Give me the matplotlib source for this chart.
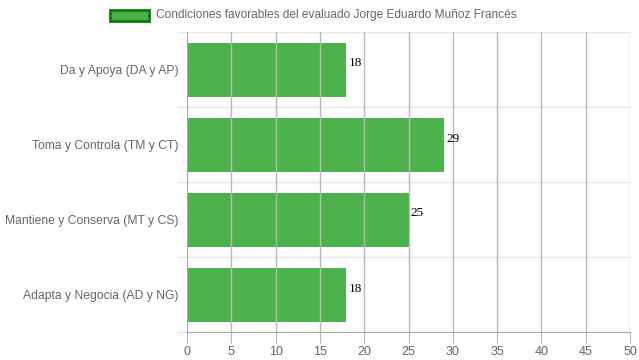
import numpy as np
import matplotlib.pyplot as plt
from matplotlib.patches import Rectangle

categories = ['Da y Apoya (DA y AP)', 'Toma y Controla (TM y CT)',
              'Mantiene y Conserva (MT y CS)', 'Adapta y Negocia (AD y NG)']
values = [18, 29, 25, 18]
legend_label = 'Condiciones favorables del evaluado Jorge Eduardo Muñoz Francés'
x_ticks = [0, 5, 10, 15, 20, 25, 30, 35, 40, 45, 50]

plt.rcParams['font.family'] = ['Liberation Sans', 'DejaVu Sans']

fig = plt.figure(figsize=(6.39, 3.6), dpi=100)
ax = fig.add_axes([187 / 639, 1 - 332 / 360, 443 / 639, 300 / 360])

pos = np.arange(len(categories))
bars = ax.barh(pos, values, height=0.72, color='#4cb34c', zorder=1)

ax.set_xlim(0, 50)
ax.set_ylim(len(categories) - 0.5, -0.5)
ax.set_xticks(x_ticks)
ax.set_yticks(pos)
ax.set_yticklabels(categories)

# vertical grid lines (darker), horizontal band separators (light)
for t in x_ticks[1:]:
    ax.axvline(t, color='#b8b8b8', lw=1, zorder=2)
for b in np.arange(-0.5, len(categories), 1.0):
    ax.axhline(b, color='#e6e6e6', lw=1, zorder=0)
    ax.plot([-0.02, 0], [b, b], transform=ax.get_yaxis_transform(),
            color='#e6e6e6', lw=1, clip_on=False)

for s in ['top', 'right']:
    ax.spines[s].set_visible(False)
ax.spines['left'].set_color('#a8a8a8')
ax.spines['bottom'].set_color('#a8a8a8')
ax.tick_params(axis='y', length=0, pad=6, labelsize=8.7, labelcolor='#666666')
ax.tick_params(axis='x', length=8, color='#b8b8b8', pad=2, labelsize=9, labelcolor='#666666')

for b, v in zip(bars, values):
    ax.text(v + 0.25, b.get_y() + b.get_height() / 2 - 0.08, str(v),
            family='Liberation Serif', fontsize=9.5, color='black',
            va='center', ha='left')

# legend
fig.patches.append(Rectangle((110 / 639, 1 - 21 / 360), 39 / 639, 11 / 360,
                             transform=fig.transFigure, facecolor='#4cb34c',
                             edgecolor='#0a7a0a', lw=2))
fig.text(156 / 639, 1 - 15 / 360, legend_label, fontsize=8.6, color='#666666',
         va='center', ha='left')

fig.savefig('out.png', dpi=100)
